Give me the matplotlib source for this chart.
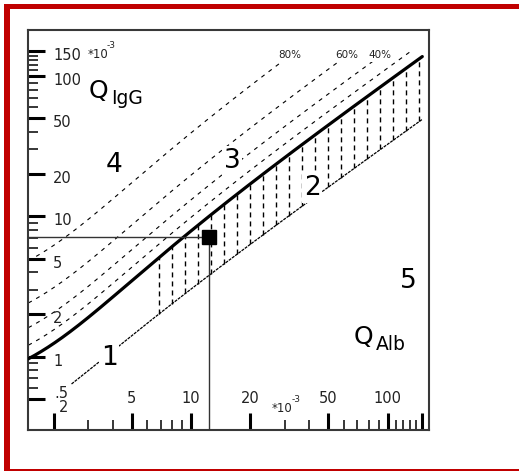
import numpy as np
import matplotlib
matplotlib.use("Agg")
import matplotlib.pyplot as plt
from matplotlib.patches import Rectangle
from matplotlib.ticker import FixedLocator, NullFormatter
from matplotlib.transforms import blended_transform_factory, offset_copy

# Reiber hyperbola for IgG, all quotients in units of 1e-3:
#   Q_lim = ab * sqrt(Q_Alb^2 + b2) - c
upper_ab, upper_b2, upper_c = 0.93, 6.0, 1.7   # upper reference limit (thick line)
lower_ab, lower_b2, lower_c = 0.33, 2.0, 0.3   # lower reference limit
lower_start = 2.47                              # Q_Alb where the lower limit starts
q_alb_end = 150.0
q_igg_end = 150.0

# intrathecal fraction lines (Q_IgG = Q_lim / (1 - IF))
if_fractions = [0.2, 0.4, 0.6, 0.8]
if_labels = {0.8: "80%", 0.6: "60%", 0.4: "40%"}

# barrier-dysfunction hatching between the limits
hatch_from, hatch_to, hatch_count = 6.9, 145.0, 21

# patient sample
patient_qalb = 12.4
patient_qigg = 7.1

# axes ticks
x_major = [2, 5, 10, 20, 50, 100, 150]
x_minor = [3, 4, 6, 7, 8, 9, 30, 40, 60, 70, 80, 90, 110, 120, 130, 140]
x_ticklabels = {2: "2", 5: "5", 10: "10", 20: "20", 50: "50", 100: "100"}
y_major = [0.5, 1, 2, 5, 10, 20, 50, 100, 150]
y_minor = [0.6, 0.7, 0.8, 0.9, 3, 4, 6, 7, 8, 9, 30, 40, 60, 70, 80, 90,
           110, 120, 130, 140]
y_ticklabels = {150: "150", 100: "100", 50: "50", 20: "20", 10: "10",
                5: "5", 2: "2", 1: "1", 0.5: ".5"}

region_labels = ["1", "2", "3", "4", "5"]

W, H = 519, 471
L, R, T, B = 28.3, 428.5, 29.5, 429.5
XMIN, XMAX = 1.489, 161.3
YMIN, YMAX = 0.3029, 214.9

TXT = "#222222"
RED = "#c00000"


def reiber(q, ab, b2, c):
    return ab * np.sqrt(q ** 2 + b2) - c


def reiber_inv(v, ab, b2, c):
    return np.sqrt(((v + c) / ab) ** 2 - b2)


fig = plt.figure(figsize=(W / 100, H / 100), dpi=100)
fig.patch.set_facecolor("white")

# page frame
def frame_rect(x0, y0, x1, y1):
    fig.add_artist(Rectangle((x0 / W, 1 - y1 / H), (x1 - x0) / W, (y1 - y0) / H,
                             transform=fig.transFigure, facecolor=RED,
                             edgecolor="none", zorder=0))

frame_rect(4, 4, 519, 9)
frame_rect(4, 4, 10, 470.5)
frame_rect(4, 469, 519, 470.5)

ax = fig.add_axes([L / W, 1 - B / H, (R - L) / W, (B - T) / H])
ax.set_xscale("log")
ax.set_yscale("log")
ax.set_xlim(XMIN, XMAX)
ax.set_ylim(YMIN, YMAX)
for s in ax.spines.values():
    s.set_color("#383838")
    s.set_linewidth(1.5)

ax.xaxis.set_major_locator(FixedLocator(x_major))
ax.xaxis.set_minor_locator(FixedLocator(x_minor))
ax.yaxis.set_major_locator(FixedLocator(y_major))
ax.yaxis.set_minor_locator(FixedLocator(y_minor))
for a in (ax.xaxis, ax.yaxis):
    a.set_major_formatter(NullFormatter())
    a.set_minor_formatter(NullFormatter())
ax.tick_params(which="major", direction="in", length=12, width=2.2,
               color="black", top=False, right=False)
ax.tick_params(which="minor", direction="in", length=7, width=1.1,
               color="black", top=False, right=False)


def afrac(px, py):
    return ((px - L) / (R - L), (B - py) / (B - T))


# tick labels drawn inside the plot
ytrans = blended_transform_factory(ax.transAxes, ax.transData)
for v, s in y_ticklabels.items():
    dy = -9 if v != 0.5 else 1
    xpix = 53.3 if v != 0.5 else 54.5
    ax.text(afrac(xpix, 0)[0], v, s, fontsize=10.5, color=TXT,
            ha="left", va="baseline",
            transform=offset_copy(ytrans, fig=fig, y=dy, units="dots"))

xtrans = blended_transform_factory(ax.transData, ax.transAxes)
for v, s in x_ticklabels.items():
    if v == 2:
        ax.text(afrac(63.5, 411.7)[0], afrac(63.5, 411.7)[1], s, fontsize=10.5,
                color=TXT, ha="center", va="baseline", transform=ax.transAxes)
    else:
        ax.text(v, afrac(0, 403.3)[1], s, fontsize=10.5, color=TXT,
                ha="center", va="baseline", transform=xtrans)

# unit markers
ax.text(*afrac(88, 58), "*10", fontsize=8.5, color=TXT, ha="left",
        va="baseline", transform=ax.transAxes)
ax.text(*afrac(107, 48.5), "-3", fontsize=6.5, color=TXT, ha="left",
        va="baseline", transform=ax.transAxes)
ax.text(*afrac(272, 411.5), "*10", fontsize=8.5, color=TXT, ha="left",
        va="baseline", transform=ax.transAxes)
ax.text(*afrac(291.5, 402), "-3", fontsize=6.5, color=TXT, ha="left",
        va="baseline", transform=ax.transAxes)

# axis titles
ax.text(*afrac(89, 98), "Q", fontsize=18, color="black", ha="left",
        va="baseline", transform=ax.transAxes)
ax.text(*afrac(111, 104), "IgG", fontsize=13.5, color="black", ha="left",
        va="baseline", transform=ax.transAxes)
ax.text(*afrac(354, 344), "Q", fontsize=18, color="black", ha="left",
        va="baseline", transform=ax.transAxes)
ax.text(*afrac(376, 350), "Alb", fontsize=13.5, color="black", ha="left",
        va="baseline", transform=ax.transAxes)

# upper reference limit
q_up = np.geomspace(XMIN, q_alb_end, 500)
ax.plot(q_up, reiber(q_up, upper_ab, upper_b2, upper_c), color="black",
        lw=2.3, solid_capstyle="round", zorder=3)

# intrathecal fraction lines
for f in if_fractions:
    q_end = reiber_inv(q_igg_end * (1 - f), upper_ab, upper_b2, upper_c)
    q = np.geomspace(XMIN, min(q_end, q_alb_end), 400)
    ax.plot(q, reiber(q, upper_ab, upper_b2, upper_c) / (1 - f),
            color="black", lw=0.8, ls=(0, (3.6, 4.5)), zorder=2)
    if f in if_labels:
        t = offset_copy(ax.transData, fig=fig, x=-6, y=-7, units="dots")
        ax.text(q_end, q_igg_end, if_labels[f], fontsize=7.5, color=TXT,
                ha="center", va="baseline", transform=t, zorder=5,
                bbox=dict(boxstyle="square,pad=0.15", fc="white", ec="none"))

# lower reference limit
q_lo = np.geomspace(lower_start, q_alb_end, 400)
ax.plot(q_lo, reiber(q_lo, lower_ab, lower_b2, lower_c), color="black",
        lw=0.9, ls=(0, (2.4, 0.8)), zorder=2)

# hatching of the barrier-dysfunction area
for xv in np.geomspace(hatch_from, hatch_to, hatch_count):
    ax.plot([xv, xv], [reiber(xv, lower_ab, lower_b2, lower_c),
                       reiber(xv, upper_ab, upper_b2, upper_c)],
            color="black", lw=1.0, ls=(0, (3.6, 2.9)), zorder=2)

# patient value with guide lines
ax.plot([XMIN, patient_qalb], [patient_qigg, patient_qigg], color="#333333",
        lw=1.0, zorder=3)
ax.plot([patient_qalb, patient_qalb], [YMIN, patient_qigg], color="#333333",
        lw=1.0, zorder=3)
ax.plot([patient_qalb], [patient_qigg], marker="s", ms=10.5, color="black",
        zorder=6)

# region numbers
region_pos = {"1": (109, 365), "2": (312, 195), "3": (232, 168),
              "4": (114, 172), "5": (408, 288)}
for r in region_labels:
    px, py = region_pos[r]
    ax.text(*afrac(px, py), r, fontsize=19, color="black", ha="center",
            va="baseline", transform=ax.transAxes, zorder=5,
            bbox=dict(boxstyle="square,pad=0.08", fc="white", ec="none"))

fig.savefig("out.png", dpi=100)
